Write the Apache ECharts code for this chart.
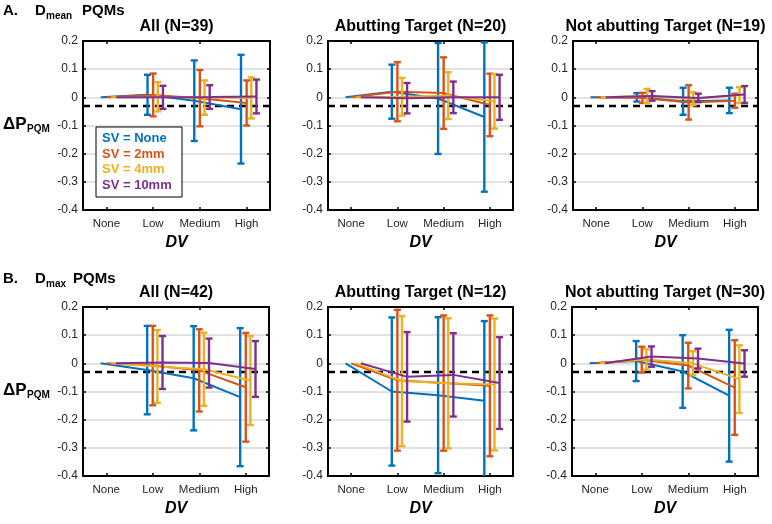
<!DOCTYPE html>
<html><head><meta charset="utf-8">
<script src="https://cdn.jsdelivr.net/npm/echarts@6/dist/echarts.min.js"></script>
<style>html,body{margin:0;padding:0;background:#fff}#c{width:772px;height:524px}</style>
</head><body><div id="c"></div>
<script>
// ---------------- data ----------------
const categories = ['None', 'Low', 'Medium', 'High'];
const svLabels = ['SV = None', 'SV = 2mm', 'SV = 4mm', 'SV = 10mm'];
const threshold = -0.03;
const panelTitles = ['All (N=39)', 'Abutting Target (N=20)', 'Not abutting Target (N=19)',
                     'All (N=42)', 'Abutting Target (N=12)', 'Not abutting Target (N=30)'];
// rows: SV None, 2mm, 4mm, 10mm ; columns: DV None, Low, Medium, High
const dmeanAllMean = [[0, 0.009, -0.012, -0.042], [0, 0.0085, -0.003, -0.02], [0, 0.002, -0.001, -0.002], [0, 0.0, 0.001, 0.003]];
const dmeanAllErr  = [[0, 0.071, 0.143, 0.193], [0, 0.076, 0.1, 0.08], [0, 0.052, 0.061, 0.073], [0, 0.041, 0.042, 0.06]];
const dmeanAbutMean = [[0, 0.02, -0.004, -0.07], [0, 0.02, 0.015, -0.027], [0, 0.002, 0.006, -0.014], [0, -0.003, 0.0, 0.0]];
const dmeanAbutErr  = [[0, 0.096, 0.197, 0.265], [0, 0.105, 0.127, 0.111], [0, 0.067, 0.083, 0.097], [0, 0.054, 0.056, 0.08]];
const dmeanNotMean = [[0, 0.0, -0.014, -0.011], [0, -0.002, -0.018, -0.012], [0, 0.005, -0.005, 0.008], [0, 0.005, -0.002, 0.01]];
const dmeanNotErr  = [[0, 0.015, 0.048, 0.045], [0, 0.018, 0.061, 0.025], [0, 0.025, 0.023, 0.028], [0, 0.017, 0.015, 0.03]];
const dmaxAllMean = [[0, -0.024, -0.053, -0.12], [0, -0.008, -0.025, -0.085], [0, -0.011, -0.021, -0.061], [0, 0.003, 0.001, -0.02]];
const dmaxAllErr  = [[0, 0.157, 0.185, 0.245], [0, 0.141, 0.146, 0.193], [0, 0.129, 0.13, 0.158], [0, 0.094, 0.087, 0.099]];
const dmaxAbutMean = [[0, -0.1, -0.113, -0.133], [0, -0.06, -0.07, -0.08], [0, -0.063, -0.071, -0.075], [0, -0.048, -0.041, -0.07]];
const dmaxAbutErr  = [[0, 0.263, 0.277, 0.283], [0, 0.25, 0.24, 0.25], [0, 0.231, 0.231, 0.234], [0, 0.159, 0.148, 0.163]];
const dmaxNotMean = [[0, 0.008, -0.029, -0.115], [0, 0.013, -0.008, -0.086], [0, 0.014, 0.0, -0.056], [0, 0.024, 0.017, -0.0005]];
const dmaxNotErr  = [[0, 0.071, 0.129, 0.234], [0, 0.046, 0.081, 0.168], [0, 0.036, 0.043, 0.12], [0, 0.036, 0.035, 0.047]];

const panelMeans = [dmeanAllMean, dmeanAbutMean, dmeanNotMean, dmaxAllMean, dmaxAbutMean, dmaxNotMean];
const panelErrs  = [dmeanAllErr, dmeanAbutErr, dmeanNotErr, dmaxAllErr, dmaxAbutErr, dmaxNotErr];

// ---------------- style / layout ----------------
const colors = ['#0072BD', '#D95319', '#EDB120', '#7E2F8E'];
const xOffsets = [-0.12, 0, 0.1, 0.21];
const gridBoxes = [[83, 41, 187, 169], [328, 41, 185, 169], [573, 41, 185, 169],
                   [83, 307, 186, 169], [328, 307, 185, 169], [572, 307, 186, 169]];
const FONT = '"Liberation Sans", Arial, Helvetica, sans-serif';
const txt = '#262626';

const chart = echarts.init(document.getElementById('c'), null, {renderer: 'canvas'});

const grid = [], xAxis = [], yAxis = [], series = [];
gridBoxes.forEach((b, p) => {
  grid.push({left: b[0], top: b[1], width: b[2], height: b[3], containLabel: false});
  xAxis.push({type: 'value', gridIndex: p, min: 0.5, max: 4.5, show: false});
  xAxis.push({type: 'category', gridIndex: p, position: 'bottom', data: categories, z: 3,
    axisLine: {show: true, onZero: false, lineStyle: {color: '#000', width: 2}},
    axisTick: {show: true, inside: true, alignWithLabel: true, length: 3, lineStyle: {color: '#000', width: 1.5}},
    axisLabel: {color: txt, fontSize: 11.5, fontFamily: FONT, margin: 8, interval: 0},
    splitLine: {show: false}});
  xAxis.push({type: 'category', gridIndex: p, position: 'top', data: categories, z: 3,
    axisLine: {show: true, onZero: false, lineStyle: {color: '#000', width: 2}},
    axisTick: {show: true, inside: true, alignWithLabel: true, length: 3, lineStyle: {color: '#000', width: 1.5}},
    axisLabel: {show: false}, splitLine: {show: false}});
  yAxis.push({type: 'value', gridIndex: p, min: -0.4, max: 0.2, interval: 0.1, position: 'left', z: 3,
    axisLine: {show: true, lineStyle: {color: '#000', width: 2}},
    axisTick: {show: true, inside: true, length: 3, lineStyle: {color: '#000', width: 1.5}},
    axisLabel: {color: txt, fontSize: 12, fontFamily: FONT, margin: 5,
      formatter: v => String(Math.round(v * 10) / 10)},
    splitLine: {show: false}});
  yAxis.push({type: 'value', gridIndex: p, min: -0.4, max: 0.2, interval: 0.1, position: 'right', z: 3,
    axisLine: {show: true, lineStyle: {color: '#000', width: 2}},
    axisTick: {show: true, inside: true, length: 3, lineStyle: {color: '#000', width: 1.5}},
    axisLabel: {show: false}, splitLine: {show: false}});
  yAxis.push({type: 'value', gridIndex: p, min: -0.4, max: 0.2, interval: 0.1, z: 0,
    axisLine: {show: false}, axisTick: {show: false}, axisLabel: {show: false},
    splitLine: {show: true, lineStyle: {color: '#d9d9d9', width: 1.6}}});
});

function renderErr(params, api) {
  const x = api.value(0), lo = api.value(1), hi = api.value(2);
  const a = api.coord([x, lo]), b = api.coord([x, hi]);
  const w = 3.5;
  const style = {stroke: api.visual('color'), lineWidth: 2.4};
  return {type: 'group', children: [
    {type: 'line', shape: {x1: a[0], y1: a[1], x2: b[0], y2: b[1]}, style},
    {type: 'line', shape: {x1: a[0] - w, y1: a[1], x2: a[0] + w, y2: a[1]}, style},
    {type: 'line', shape: {x1: b[0] - w, y1: b[1], x2: b[0] + w, y2: b[1]}, style}
  ]};
}

panelMeans.forEach((means, p) => {
  const errs = panelErrs[p];
  means.forEach((m, s) => {
    series.push({type: 'line', xAxisIndex: 3 * p, yAxisIndex: 3 * p, z: 5 + 2 * s,
      data: m.map((v, i) => [i + 1 + xOffsets[s], v]),
      symbol: 'none', color: colors[s], lineStyle: {width: 2, color: colors[s]}, silent: true, animation: false});
    const eb = [];
    m.forEach((v, i) => { if (errs[s][i] > 0) eb.push([i + 1 + xOffsets[s], v - errs[s][i], v + errs[s][i]]); });
    series.push({type: 'custom', xAxisIndex: 3 * p, yAxisIndex: 3 * p, z: 6 + 2 * s, clip: true,
      renderItem: renderErr, data: eb, color: colors[s], encode: {x: 0, y: [1, 2]}, silent: true, animation: false});
  });
  series.push({type: 'line', xAxisIndex: 3 * p, yAxisIndex: 3 * p, z: 20, data: [], silent: true, animation: false,
    markLine: {silent: true, symbol: 'none', label: {show: false}, animation: false,
      lineStyle: {color: '#000', type: [7, 5], width: 2.4},
      data: [{yAxis: threshold}]}});
});

const graphic = [];
function t(text, x, y, font, align, fill) {
  graphic.push({type: 'text', x: x, y: y, silent: true, z: 50,
    style: {text: text, font: font, fill: fill || '#000', textAlign: align || 'left', textVerticalAlign: 'middle'}});
}
const B15 = 'bold 15px ' + FONT;
t('A.', 3, 11, B15);
t('D', 35, 11, B15);
t('mean', 46, 16, 'bold 10px ' + FONT);
t('PQMs', 82, 11, B15);
t('B.', 3, 279, B15);
t('D', 35, 279, B15);
t('max', 46, 284, 'bold 10px ' + FONT);
t('PQMs', 73, 279, B15);
gridBoxes.forEach((b, p) => {
  const cx = b[0] + b[2] / 2;
  t(panelTitles[p], cx, b[1] - 14.5, 'bold 16px ' + FONT, 'center');
  t('DV', cx, b[1] + b[3] + 33, 'italic bold 16px ' + FONT, 'center');
});
[124, 390].forEach(y => {
  t('ΔP', 3, y, 'bold 17px ' + FONT);
  t('PQM', 27, y + 5, 'bold 10px ' + FONT);
});
graphic.push({type: 'rect', shape: {x: 96, y: 127, width: 86, height: 70}, z: 40, silent: true,
  style: {fill: '#fff', stroke: '#000', lineWidth: 1}});
svLabels.forEach((s, i) => t(s, 102, 138.5 + i * 15.6, 'bold 13px ' + FONT, 'left', colors[i]));

chart.setOption({animation: false, backgroundColor: '#fff', grid, xAxis, yAxis, series, graphic});
</script></body></html>
